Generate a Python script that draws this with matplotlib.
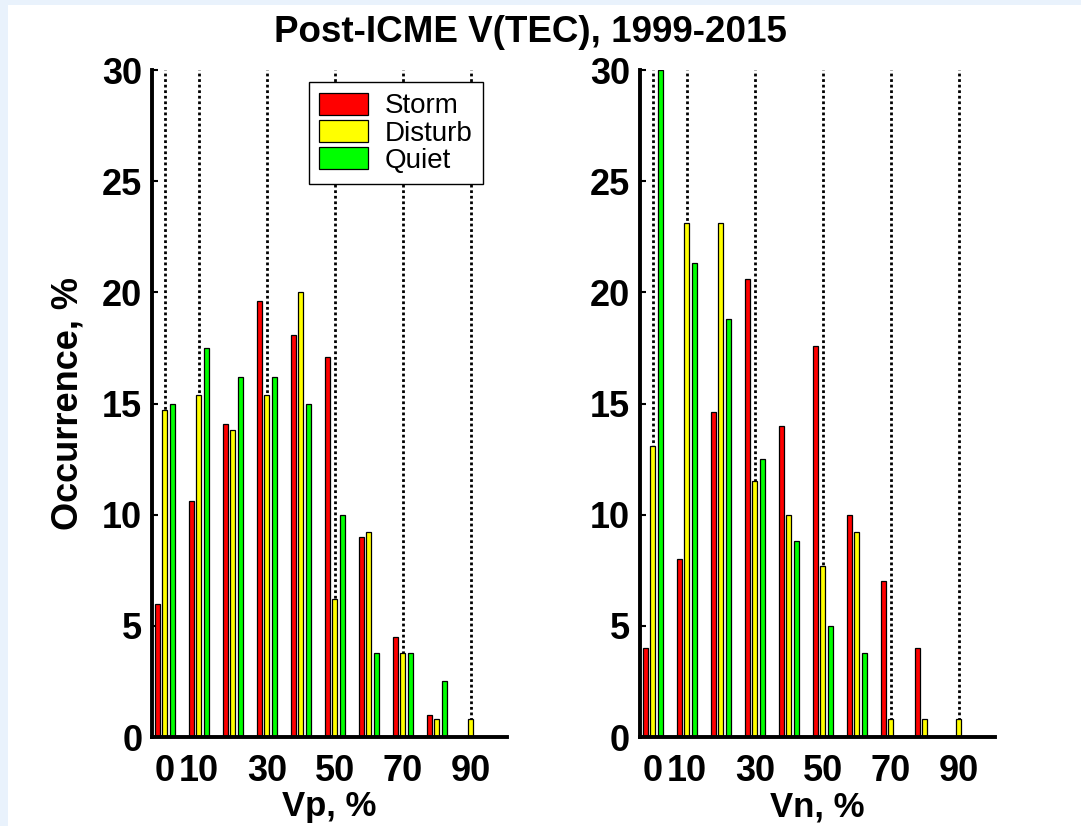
import numpy as np
import matplotlib
matplotlib.use('Agg')
import matplotlib.pyplot as plt
from matplotlib.patches import Rectangle

# Bin centres (%) and occurrence (%) per class
bins = [0, 10, 20, 30, 40, 50, 60, 70, 80, 90]
series_names = ['Storm', 'Disturb', 'Quiet']
series_colors = ['#ff0000', '#ffff00', '#00ff00']

vp_storm = [6.0, 10.6, 14.1, 19.6, 18.1, 17.1, 9.0, 4.5, 1.0, 0.0]
vp_disturb = [14.7, 15.4, 13.8, 15.4, 20.0, 6.2, 9.2, 3.8, 0.8, 0.8]
vp_quiet = [15.0, 17.5, 16.2, 16.2, 15.0, 10.0, 3.8, 3.8, 2.5, 0.0]

vn_storm = [4.0, 8.0, 14.6, 20.6, 14.0, 17.6, 10.0, 7.0, 4.0, 0.0]
vn_disturb = [13.1, 23.1, 23.1, 11.5, 10.0, 7.7, 9.2, 0.8, 0.8, 0.8]
vn_quiet = [30.0, 21.3, 18.8, 12.5, 8.8, 5.0, 3.8, 0.0, 0.0, 0.0]

xticks = [0, 10, 30, 50, 70, 90]
yticks = [0, 5, 10, 15, 20, 25, 30]

plt.rcParams['font.family'] = ['Liberation Sans', 'DejaVu Sans']
plt.rcParams['font.weight'] = 'bold'

fig = plt.figure(figsize=(10.81, 8.26), dpi=100)
fig.patch.set_facecolor('#e9f2fc')
fig.patches.append(Rectangle((8 / 1081, 0), 1, 1 - 5 / 826, transform=fig.transFigure,
                             facecolor='white', edgecolor='none', zorder=-10))

ax_l = fig.add_axes([0.1406, 0.1077, 0.3284, 0.8075])
ax_r = fig.add_axes([0.5920, 0.1077, 0.3284, 0.8075])

def draw_panel(ax, groups, xlabel, ylabel=None, legend=False):
  x = np.array(bins, dtype=float)
  offsets = [-2.2, 0.0, 2.2]
  handles = []
  for vals, off, col, name in zip(groups, offsets, series_colors, series_names):
    h = ax.bar(x + off, vals, width=1.5, color=col, edgecolor='black',
               linewidth=0.9, label=name, zorder=3)
    handles.append(h)
  ax.set_xlim(-3.8, 100.6)
  ax.set_ylim(0, 30)
  ax.set_xticks(xticks)
  ax.set_yticks(yticks)
  ax.set_facecolor('white')
  for s in ['top', 'right']:
    ax.spines[s].set_visible(False)
  for s in ['left', 'bottom']:
    ax.spines[s].set_linewidth(2.8)
    ax.spines[s].set_zorder(5)
  ax.xaxis.grid(True, color='black', linestyle=(0, (1, 1)), linewidth=2.0, zorder=2)
  ax.set_axisbelow(False)
  ax.tick_params(axis='y', direction='in', length=4, width=1.5, labelsize=26, pad=7)
  ax.tick_params(axis='x', direction='in', length=0, labelsize=26, pad=12)
  for lab in ax.get_xticklabels() + ax.get_yticklabels():
    lab.set_fontweight('bold')
  ax.set_xlabel(xlabel, fontsize=25, fontweight='bold', labelpad=1)
  if ylabel:
    ax.set_ylabel(ylabel, fontsize=26, fontweight='bold', labelpad=12)
  if legend:
    leg = ax.legend(handles=handles, loc='upper left', bbox_to_anchor=(0.442, 0.982),
                    borderaxespad=0, frameon=True, fancybox=False, framealpha=1,
                    edgecolor='black', handlelength=1.75, handleheight=0.85,
                    labelspacing=0.02, borderpad=0.38, handletextpad=0.6,
                    prop={'size': 20, 'weight': 'normal'})
    leg.get_frame().set_linewidth(1.0)
    leg.set_zorder(10)

draw_panel(ax_l, [vp_storm, vp_disturb, vp_quiet], 'Vp, %', 'Occurrence, %', legend=True)
draw_panel(ax_r, [vn_storm, vn_disturb, vn_quiet], 'Vn, %')

fig.text(0.491, 0.961, 'Post-ICME V(TEC), 1999-2015', ha='center', va='center',
         fontsize=26.5, fontweight='bold')

fig.savefig('out.png', dpi=100, facecolor=fig.get_facecolor())
